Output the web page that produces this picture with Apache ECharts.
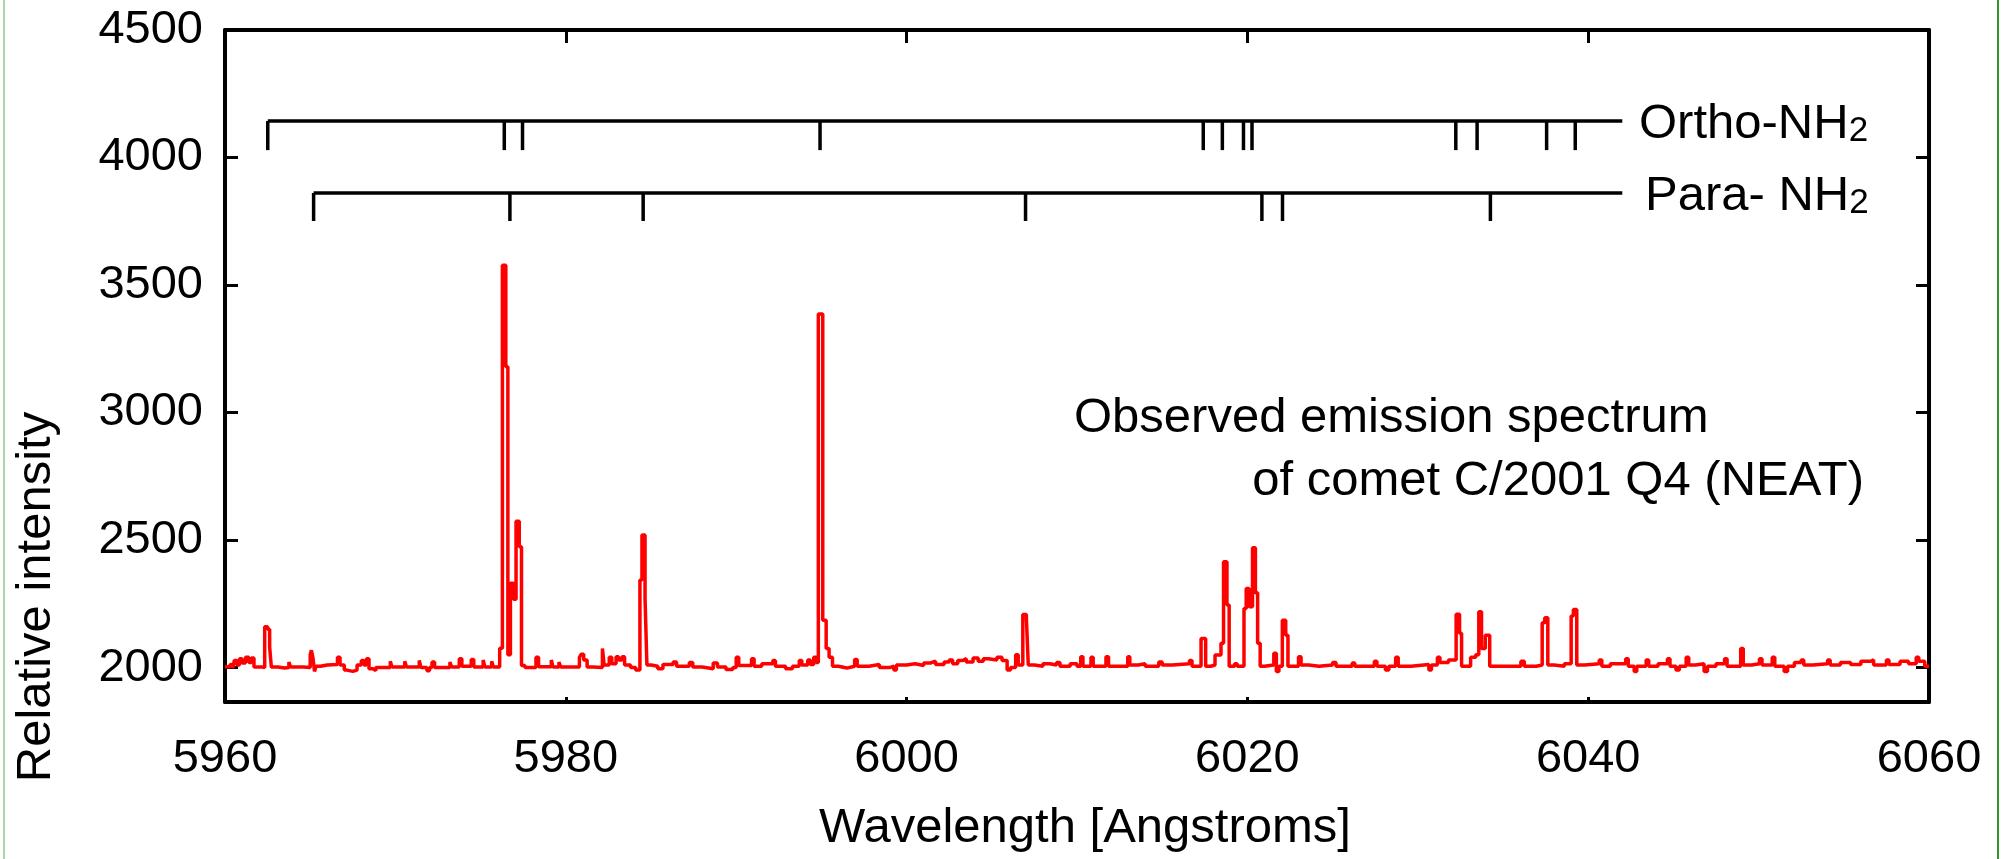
<!DOCTYPE html>
<html>
<head>
<meta charset="utf-8">
<script src="https://cdn.jsdelivr.net/npm/echarts@6/dist/echarts.min.js"></script>
<style>
html,body{margin:0;padding:0;background:#fff;}
#chart{width:2009px;height:859px;}
</style>
</head>
<body>
<div id="chart"></div>
<script>
// ---- data ----
// spectrum: [wavelength (Angstrom), relative intensity]; drawn as steps (value holds until next point)
const spectrum = [
[5960.00,2003],[5960.30,2012],[5960.45,1998],[5960.55,2028],[5960.70,2010],[5960.85,2035],[5961.00,2018],
[5961.20,2040],[5961.40,2020],[5961.55,2038],[5961.70,2002],[5962.20,2000],[5962.33,2160],[5962.50,2150],
[5962.62,2080],[5962.72,2002],[5963.10,1998],[5963.50,2000],[5963.75,2022],[5963.85,2002],[5964.60,2000],
[5965.00,2050],[5965.07,2068],[5965.17,2035],[5965.25,1985],[5965.35,2005],[5965.60,2010],[5966.00,2012],
[5966.60,2040],[5966.75,2010],[5967.00,1990],[5967.15,1985],[5967.50,1990],[5967.75,2010],[5968.00,2028],
[5968.15,2010],[5968.30,2035],[5968.45,1995],[5968.70,1988],[5968.85,2000],[5969.70,2025],[5969.80,2002],
[5970.55,2025],[5970.65,2002],[5971.40,2028],[5971.50,2000],[5971.85,1988],[5972.00,2000],[5972.15,2022],
[5972.30,2000],[5973.20,2022],[5973.30,2002],[5973.75,2035],[5973.90,2005],[5974.45,2032],[5974.60,2002],
[5975.15,2030],[5975.25,2002],[5975.65,2025],[5975.75,2002],[5976.12,2076],[5976.28,3578],[5976.48,3180],
[5976.60,2050],[5976.75,2331],[5976.93,2268],[5977.08,2574],[5977.27,2474],[5977.40,2008],[5977.60,2000],
[5978.25,2040],[5978.40,2003],[5979.15,2030],[5979.25,2002],[5979.60,2022],[5979.70,2002],[5980.80,2040],
[5980.90,2052],[5981.05,2030],[5981.25,2002],[5981.60,2000],[5982.15,2075],[5982.25,2010],[5982.55,2040],
[5982.70,2015],[5982.95,2042],[5983.10,2030],[5983.30,2042],[5983.45,2010],[5983.80,2000],[5984.10,1990],
[5984.35,2343],[5984.47,2520],[5984.65,2272],[5984.76,2010],[5985.00,2005],[5985.40,1995],[5985.70,2012],
[5986.30,2022],[5986.50,2005],[5987.25,2020],[5987.45,2002],[5988.00,1995],[5988.65,2018],[5988.90,2002],
[5989.40,1992],[5989.80,2000],[5990.00,2040],[5990.15,2008],[5990.90,2035],[5991.05,2005],[5991.50,2015],
[5992.15,2028],[5992.30,2005],[5992.90,1995],[5993.30,2005],[5993.70,2028],[5993.85,2010],[5994.20,2030],
[5994.35,2012],[5994.55,2040],[5994.70,2020],[5994.82,3386],[5995.08,2186],[5995.28,2075],[5995.45,2040],
[5995.65,2005],[5996.00,1998],[5996.50,2005],[5996.95,2032],[5997.10,2005],[5997.80,2012],[5998.40,2000],
[5999.00,2005],[5999.25,1990],[5999.40,2010],[6000.00,2015],[6000.50,2008],[6001.00,2018],[6001.40,2025],
[6001.70,2012],[6002.20,2022],[6002.50,2030],[6002.70,2015],[6003.00,2028],[6003.30,2035],[6003.50,2022],
[6003.90,2038],[6004.20,2025],[6004.50,2035],[6004.80,2030],[6005.30,2040],[6005.60,2028],[6005.90,1990],
[6006.10,2000],[6006.40,2050],[6006.55,2010],[6006.82,2208],[6007.03,2193],[6007.14,2010],[6007.50,2005],
[6008.00,2015],[6008.40,2010],[6008.80,2020],[6009.00,2005],[6009.60,2015],[6010.00,2005],[6010.22,2042],
[6010.35,2005],[6010.82,2040],[6010.95,2005],[6011.70,2042],[6011.85,2005],[6012.98,2042],[6013.10,2010],
[6013.60,2015],[6014.00,2005],[6014.80,2022],[6015.00,2010],[6015.60,2015],[6016.60,2028],[6016.75,2005],
[6017.28,2114],[6017.55,2005],[6017.85,2010],[6018.10,2049],[6018.45,2095],[6018.60,2415],[6018.80,2245],
[6018.93,2005],[6019.25,2015],[6019.40,2005],[6019.80,2232],[6019.93,2310],[6020.10,2238],[6020.30,2470],
[6020.47,2293],[6020.60,2095],[6020.75,2005],[6021.00,2010],[6021.55,2056],[6021.70,1985],[6021.85,2005],
[6022.05,2186],[6022.25,2127],[6022.38,2005],[6023.00,2042],[6023.15,2010],[6023.60,2005],[6024.20,2010],
[6025.00,2020],[6025.20,2005],[6026.15,2018],[6026.30,2005],[6027.45,2025],[6027.60,2005],[6028.10,1990],
[6028.30,2005],[6028.70,2040],[6028.85,2005],[6029.60,2012],[6030.65,1990],[6030.80,2010],[6031.15,2040],
[6031.30,2020],[6031.80,2030],[6032.25,2209],[6032.45,2135],[6032.57,2005],[6033.10,2040],[6033.40,2050],
[6033.58,2219],[6033.74,2075],[6033.96,2127],[6034.22,2005],[6036.05,2025],[6036.25,2005],[6036.95,2010],
[6037.30,2176],[6037.45,2195],[6037.63,2010],[6038.00,2005],[6038.60,2015],[6039.00,2202],[6039.13,2228],
[6039.33,2010],[6039.80,2015],[6040.65,2030],[6040.80,2005],[6041.30,2015],[6042.20,2035],[6042.35,2005],
[6042.70,1985],[6042.85,2005],[6043.40,2030],[6043.55,2005],[6044.10,2015],[6044.65,2035],[6044.80,2005],
[6045.15,1990],[6045.35,2005],[6045.75,2040],[6045.90,2010],[6046.30,2015],[6046.80,1985],[6047.00,2005],
[6047.50,2015],[6048.00,2035],[6048.15,2005],[6048.95,2075],[6049.10,2010],[6049.60,2015],[6050.05,2035],
[6050.20,2010],[6050.80,2040],[6050.95,2005],[6051.50,1985],[6051.70,2005],[6052.10,2020],[6052.50,2030],
[6052.65,2010],[6053.20,2015],[6054.05,2030],[6054.20,2010],[6054.80,2020],[6055.40,2012],[6056.00,2025],
[6056.60,2030],[6056.75,2010],[6057.50,2030],[6057.65,2012],[6058.30,2025],[6058.80,2015],[6059.25,2040],
[6059.40,2025],[6059.75,2005],[6060.00,2005]
];
// line positions (Angstrom) of the NH2 ladders; first value is where the bracket starts
const orthoLines = [5962.51, 5976.39, 5977.46, 5994.92, 6017.41, 6018.53, 6019.77, 6020.27, 6032.23, 6033.48, 6037.56, 6039.24];
const paraLines = [5965.20, 5976.72, 5984.54, 6006.98, 6020.85, 6022.06, 6034.26];
const ladderEnd = 6042.0;
const yTickValues = [2000, 2500, 3000, 3500, 4000, 4500];
const xMin = 5960, xMax = 6060, xStep = 20;
const yMin = 1865, yMax = 4500;

// ---- layout (intensity units used only to place the ladders) ----
const orthoLevel = 4143, orthoTickEnd = 4029;
const paraLevel = 3861, paraTickEnd = 3751;

function ladderSegments(lines, level, tickEnd) {
  const segs = [[lines[0], ladderEnd, level, level]];
  lines.forEach(l => segs.push([l, l, level, tickEnd]));
  return segs;
}
const ladderData = ladderSegments(orthoLines, orthoLevel, orthoTickEnd)
  .concat(ladderSegments(paraLines, paraLevel, paraTickEnd));

const FONT = '"Liberation Sans", Arial, Helvetica, sans-serif';
const axisLineStyle = {color: '#000', width: 4};
const plain = v => String(v);

const chart = echarts.init(document.getElementById('chart'), null, {renderer: 'canvas'});
chart.setOption({
  animation: false,
  backgroundColor: '#fff',
  grid: {left: 225, right: 80, top: 30, bottom: 157, containLabel: false},
  xAxis: [
    {type: 'value', min: xMin, max: xMax, interval: xStep, position: 'bottom',
     axisLine: {show: true, lineStyle: axisLineStyle},
     axisTick: {show: true, inside: true, length: 5, lineStyle: {color: '#000', width: 3}},
     axisLabel: {fontSize: 47, color: '#000', fontFamily: FONT, margin: 34, formatter: plain},
     splitLine: {show: false}},
    {type: 'value', min: xMin, max: xMax, interval: xStep, position: 'top',
     axisLine: {show: true, lineStyle: axisLineStyle},
     axisTick: {show: true, inside: true, length: 13, lineStyle: {color: '#000', width: 3}},
     axisLabel: {show: false}, splitLine: {show: false}}
  ],
  yAxis: [
    {type: 'value', min: yMin, max: yMax, position: 'left',
     axisLine: {show: true, lineStyle: axisLineStyle},
     axisTick: {show: true, inside: true, length: 13, customValues: yTickValues, lineStyle: {color: '#000', width: 3}},
     axisLabel: {fontSize: 47, color: '#000', fontFamily: FONT, margin: 22, customValues: yTickValues, formatter: plain},
     splitLine: {show: false}},
    {type: 'value', min: yMin, max: yMax, position: 'right',
     axisLine: {show: true, lineStyle: axisLineStyle},
     axisTick: {show: true, inside: true, length: 13, customValues: yTickValues, lineStyle: {color: '#000', width: 3}},
     axisLabel: {show: false}, splitLine: {show: false}}
  ],
  series: [
    {type: 'line', xAxisIndex: 0, yAxisIndex: 0, data: spectrum, step: 'end',
     showSymbol: false, symbol: 'none', clip: true,
     lineStyle: {color: '#ff0000', width: 3.5}, z: 3},
    {type: 'custom', xAxisIndex: 0, yAxisIndex: 0, data: ladderData,
     dimensions: ['x0', 'x1', 'y0', 'y1'],
     encode: {x: [0, 1], y: [2, 3]},
     renderItem: function (params, api) {
       const p1 = api.coord([api.value(0), api.value(2)]);
       const p2 = api.coord([api.value(1), api.value(3)]);
       return {type: 'line', shape: {x1: p1[0], y1: p1[1], x2: p2[0], y2: p2[1]},
               style: {stroke: '#000', lineWidth: 3.5, lineCap: 'butt'}};
     }, z: 4}
  ],
  graphic: [
    {type: 'text', x: 36, y: 597, rotation: Math.PI / 2,
     style: {text: 'Relative intensity', font: '49px ' + FONT, fill: '#000', align: 'center', verticalAlign: 'middle'}},
    {type: 'text', x: 1085, y: 828,
     style: {text: 'Wavelength [Angstroms]', font: '49px ' + FONT, fill: '#000', align: 'center', verticalAlign: 'middle'}},
    {type: 'text', x: 1074, y: 418,
     style: {text: 'Observed emission spectrum', font: '49px ' + FONT, fill: '#000', align: 'left', verticalAlign: 'middle'}},
    {type: 'text', x: 1864, y: 481,
     style: {text: 'of comet C/2001 Q4 (NEAT)', font: '49px ' + FONT, fill: '#000', align: 'right', verticalAlign: 'middle'}},
    {type: 'text', x: 1639, y: 121,
     style: {text: '{a|Ortho-NH}{s|2}', align: 'left', verticalAlign: 'middle', fill: '#000',
             rich: {a: {fontSize: 49, fontFamily: FONT, fill: '#000', lineHeight: 56, verticalAlign: 'bottom'},
                    s: {fontSize: 35, fontFamily: FONT, fill: '#000', lineHeight: 56, verticalAlign: 'bottom'}}}},
    {type: 'text', x: 1645, y: 193,
     style: {text: '{a|Para- NH}{s|2}', align: 'left', verticalAlign: 'middle', fill: '#000',
             rich: {a: {fontSize: 49, fontFamily: FONT, fill: '#000', lineHeight: 56, verticalAlign: 'bottom'},
                    s: {fontSize: 35, fontFamily: FONT, fill: '#000', lineHeight: 56, verticalAlign: 'bottom'}}}},
    {type: 'line', shape: {x1: 4, y1: 0, x2: 4, y2: 859}, style: {stroke: '#8fc98f', lineWidth: 1.5}},
    {type: 'line', shape: {x1: 1998, y1: 0, x2: 1998, y2: 859}, style: {stroke: '#2e962e', lineWidth: 2}}
  ]
});
</script>
</body>
</html>
